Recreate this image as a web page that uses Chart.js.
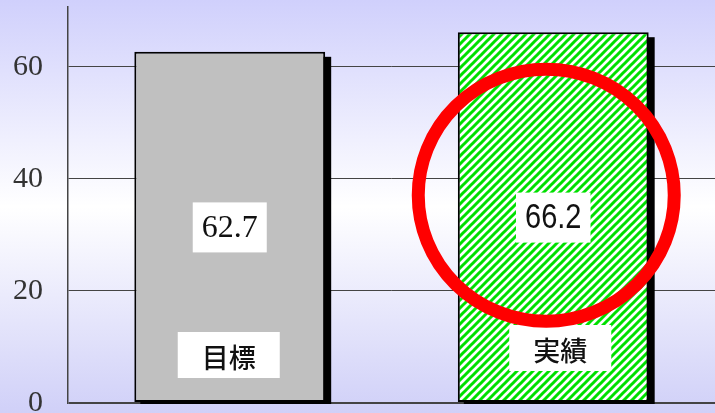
<!DOCTYPE html>
<html>
<head>
<meta charset="utf-8">
<script src="https://cdn.jsdelivr.net/npm/chart.js@4"></script>
<style>
  html, body { margin: 0; padding: 0; overflow: hidden; }
  canvas { display: block; }
</style>
</head>
<body>
<canvas id="chart" width="715" height="413"></canvas>
<script>
const categories = ['目標', '実績'];
const values = [62.7, 66.2];
const yTicks = [0, 20, 40, 60];

// diagonal green hatch for the second bar
function makeHatch() {
    const c = document.createElement('canvas');
    c.width = 8;
    c.height = 8;
    const g = c.getContext('2d');
    g.fillStyle = '#ffffff';
    g.fillRect(0, 0, 8, 8);
    g.strokeStyle = '#00e000';
    g.lineWidth = 3;
    g.beginPath();
    g.moveTo(-2, 10); g.lineTo(10, -2);
    g.moveTo(-2, 2); g.lineTo(2, -2);
    g.moveTo(6, 10); g.lineTo(10, 6);
    g.stroke();
    return g.createPattern(c, 'repeat');
}

const ctx = document.getElementById('chart').getContext('2d');

const background = {
    id: 'background',
    beforeDraw(chart) {
        const c = chart.ctx;
        const grad = c.createLinearGradient(0, 0, 0, chart.height);
        grad.addColorStop(0, '#d0d0fc');
        grad.addColorStop(0.5, '#ffffff');
        grad.addColorStop(1, '#d0d0f8');
        c.save();
        c.fillStyle = grad;
        c.fillRect(0, 0, chart.width, chart.height);
        c.restore();
    }
};

const shadows = {
    id: 'shadows',
    beforeDatasetsDraw(chart) {
        const c = chart.ctx;
        c.save();
        c.fillStyle = '#000000';
        chart.getDatasetMeta(0).data.forEach(bar => {
            const w = bar.width;
            c.fillRect(bar.x - w / 2 + 6, bar.y + 5, w, bar.base - bar.y - 3);
        });
        c.restore();
    }
};

// white box with centred text; sx squeezes the text horizontally
function labelBox(c, text, x, y, font, padX, h, dy, sx) {
    c.font = font;
    const tw = c.measureText(text).width * sx;
    const w = tw + padX * 2;
    c.fillStyle = '#ffffff';
    c.fillRect(x - w / 2, y - h / 2, w, h);
    c.save();
    c.translate(x, y + dy);
    c.scale(sx, 1);
    c.fillStyle = '#111111';
    c.textAlign = 'center';
    c.textBaseline = 'middle';
    c.fillText(text, 0, 0);
    c.restore();
}

const barLabels = {
    id: 'barLabels',
    afterDatasetsDraw(chart) {
        const c = chart.ctx;
        const y = chart.scales.y;
        const bars = chart.getDatasetMeta(0).data;
        const valueFonts = ['32px "Liberation Serif"', '35px "Liberation Sans"'];
        const valueSqueeze = [1, 0.83];
        const nameOffsets = [47, 54];
        const nameShift = [-1, 7];
        c.save();
        bars.forEach((bar, i) => {
            labelBox(c, values[i].toFixed(1), bar.x, y.getPixelForValue(values[i] / 2),
                valueFonts[i], 9, 50, 1, valueSqueeze[i]);
            labelBox(c, categories[i], bar.x + nameShift[i], bar.base - nameOffsets[i],
                '500 27px "Noto Sans CJK JP"', 24, 46, 3, 1);
        });
        c.restore();
    }
};

const ring = {
    id: 'ring',
    afterDraw(chart) {
        const c = chart.ctx;
        const bar = chart.getDatasetMeta(0).data[1];
        const cy = chart.scales.y.getPixelForValue(37.1);
        c.save();
        c.strokeStyle = '#ff0000';
        c.lineWidth = 13;
        c.beginPath();
        c.ellipse(bar.x - 7, cy, 128, 126, 0, 0, Math.PI * 2);
        c.stroke();
        c.restore();
    }
};

new Chart(ctx, {
    type: 'bar',
    data: {
        labels: categories,
        datasets: [{
            data: values,
            backgroundColor: ['#c0c0c0', makeHatch()],
            borderColor: '#000000',
            borderWidth: 2,
            borderSkipped: false,
            categoryPercentage: 1,
            barPercentage: 0.59
        }]
    },
    options: {
        responsive: false,
        animation: false,
        layout: { padding: { top: 7, bottom: 10, right: 0, left: 0 } },
        plugins: {
            legend: { display: false },
            tooltip: { enabled: false }
        },
        scales: {
            x: {
                ticks: { display: false },
                grid: { display: false },
                border: { display: false },
                afterFit(s) {
                    s.height = 0;
                    s.paddingLeft = s.paddingRight = s.paddingTop = s.paddingBottom = 0;
                }
            },
            y: {
                min: 0,
                max: 70.7,
                afterBuildTicks(s) {
                    s.ticks = yTicks.map(v => ({ value: v }));
                },
                afterFit(s) {
                    s.width = 68;
                    s.paddingTop = s.paddingBottom = 0;
                },
                ticks: {
                    padding: 25,
                    color: '#333333',
                    font: { family: 'Liberation Serif', size: 30 }
                },
                grid: {
                    color: '#444444',
                    lineWidth: c => c.tick && c.tick.value === 0 ? 2 : 1,
                    drawTicks: false
                },
                border: { display: true, color: '#444444', width: 1.5 }
            }
        }
    },
    plugins: [background, shadows, barLabels, ring]
});
</script>
</body>
</html>
